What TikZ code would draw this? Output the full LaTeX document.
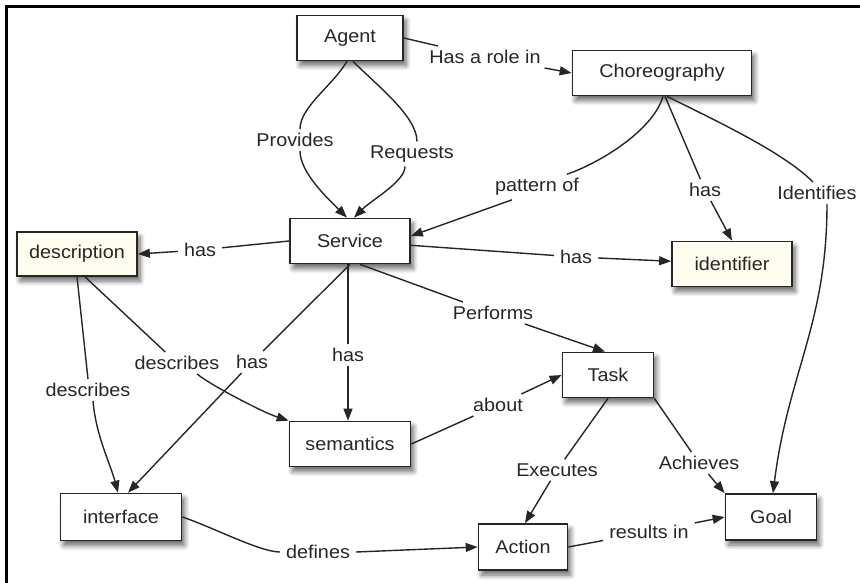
\documentclass[tikz,border=0pt]{standalone}
\usepackage{fontspec}
\setmainfont{Liberation Sans}[FakeStretch=1.07]
\usetikzlibrary{arrows.meta,shadows.blur}
\definecolor{ink}{HTML}{262626}
\definecolor{cream}{HTML}{FEFDF0}
\begin{document}
\begin{tikzpicture}[x=1pt,y=-1pt,
  concept/.style={draw=ink, line width=1.7pt, fill=white, minimum height=45pt,
    inner sep=0pt, text=ink, font=\fontsize{18.5}{20}\selectfont,
    blur shadow={shadow xshift=3pt, shadow yshift=-5pt, shadow blur radius=5pt, shadow blur steps=8, shadow opacity=60}},
  link/.style={text=ink, font=\fontsize{18.5}{20}\selectfont, inner xsep=6pt, inner ysep=4pt},
  conn/.style={draw=ink, line width=1.4pt},
  arr/.style={conn, -{Triangle[length=12pt,width=9pt]}},
]
\useasboundingbox (0,0) rectangle (860,583);
% frame
\draw[line width=2.7pt, black] (860,6.5) -- (6.5,6.5) -- (6.5,583);

% concepts
\node[concept, minimum width=106pt] (agent) at (350,38) {Agent};
\node[concept, minimum width=179pt] (choreo) at (662,73) {Choreography};
\node[concept, minimum width=120pt] (service) at (350,241) {Service};
\node[concept, minimum width=120pt, minimum height=44pt, fill=cream] (descr) at (77,254) {description};
\node[concept, minimum width=120pt, fill=cream] (ident) at (732,264) {identifier};
\node[concept, minimum width=91pt] (task) at (608,375) {Task};
\node[concept, minimum width=121pt] (sem) at (350,444) {semantics};
\node[concept, minimum width=121pt, minimum height=47pt] (iface) at (121,517) {interface};
\node[concept, minimum width=89pt, minimum height=46pt] (action) at (523,547) {Action};
\node[concept, minimum width=91pt, minimum height=46pt] (goal) at (771,517) {Goal};

% link phrases
\node[link] (lrole) at (485,57) {Has a role in};
\node[link] (lprov) at (295,140) {Provides};
\node[link] (lreq) at (412,154) {Requests};
\node[link] (lpat) at (537,187) {pattern of};
\node[link] (lhasid2) at (705,190) {has};
\node[link] (lident) at (817,193) {Identifies};
\node[link] (lhasdesc) at (200,250) {has};
\node[link] (lhasid) at (576,257) {has};
\node[link] (lperf) at (493,313) {Performs};
\node[link] (lhassem) at (348,355) {has};
\node[link] (lhasint) at (252,362) {has};
\node[link] (ldescsem) at (177,363) {describes};
\node[link] (ldescint) at (88,390) {describes};
\node[link] (labout) at (498,405) {about};
\node[link] (lexec) at (557,470) {Executes};
\node[link] (lach) at (699,463) {Achieves};
\node[link] (ldef) at (318,552) {defines};
\node[link] (lres) at (649,532) {results in};

% Agent
\draw[conn] (agent.east) -- (lrole);
\draw[arr] (lrole) -- (choreo.west);
\draw[conn] ([xshift=-3pt]agent.south) .. controls +(-15,25) and +(0,-22) .. ([xshift=5pt]lprov.north);
\draw[arr] ([xshift=5pt]lprov.south) .. controls +(0,22) and +(-18,-18) .. ([xshift=-3pt]service.north);
\draw[conn] ([xshift=3pt]agent.south) .. controls +(25,25) and +(0,-25) .. ([xshift=5pt]lreq.north);
\draw[arr] ([xshift=-7pt]lreq.south) .. controls +(0,15) and +(18,-18) .. ([xshift=4pt]service.north);

% Choreography
\draw[conn] ([xshift=1pt]choreo.south) .. controls +(-10,35) and +(30,-10) .. ([xshift=30pt]lpat.north);
\draw[arr] ([xshift=-25pt]lpat.south) -- ([yshift=5pt]service.east);
\draw[conn] ([xshift=3pt]choreo.south) -- (lhasid2);
\draw[arr] (lhasid2) -- (ident.north);
\draw[conn] ([xshift=5pt]choreo.south) .. controls +(50,25) and +(-30,-30) .. ([xshift=-4pt]lident.north);
\draw[arr] ([xshift=10pt]lident.south) .. controls +(0,120) and +(15,-120) .. ([xshift=2pt]goal.north);

% Service
\draw[conn] (service.west) -- (lhasdesc);
\draw[arr] (lhasdesc) -- (descr.east);
\draw[conn] (service) -- (lhasid);
\draw[arr] (lhasid) -- (ident);
\draw[conn] ([xshift=10pt]service.south) -- (lperf);
\draw[arr] (lperf) -- ([xshift=-3pt]task.north);
\draw[conn] ([xshift=-2pt]service.south) -- (lhassem);
\draw[arr] (lhassem) -- ([xshift=-2pt]sem.north);
\draw[conn] (service.south) -- (lhasint);
\draw[arr] (lhasint) -- ([xshift=7pt]iface.north);

% description
\draw[conn] ([xshift=8pt]descr.south) -- (ldescsem);
\draw[arr] ([xshift=20pt]ldescsem.south) .. controls +(15,12) and +(-25,-8) .. (sem.north west);
\draw[conn] (descr.south) -- (ldescint.north);
\draw[arr] ([xshift=5pt]ldescint.south) .. controls +(3,35) and +(-8,-30) .. ([xshift=-3pt]iface.north);

% semantics, interface, Task, Action
\draw[conn] (sem.east) -- (labout);
\draw[arr] (labout) -- (task.west);
\draw[conn] (iface.east) .. controls +(30,10) and +(-20,0) .. (ldef.west);
\draw[arr] (ldef.east) -- (action.west);
\draw[conn] (task.south) -- (lexec);
\draw[arr] (lexec) -- ([xshift=2pt]action.north);
\draw[conn] (task.south east) -- (lach);
\draw[arr] (lach) -- (goal.north west);
\draw[conn] (action.east) -- (lres);
\draw[arr] (lres) -- (goal.west);
\end{tikzpicture}
\end{document}
